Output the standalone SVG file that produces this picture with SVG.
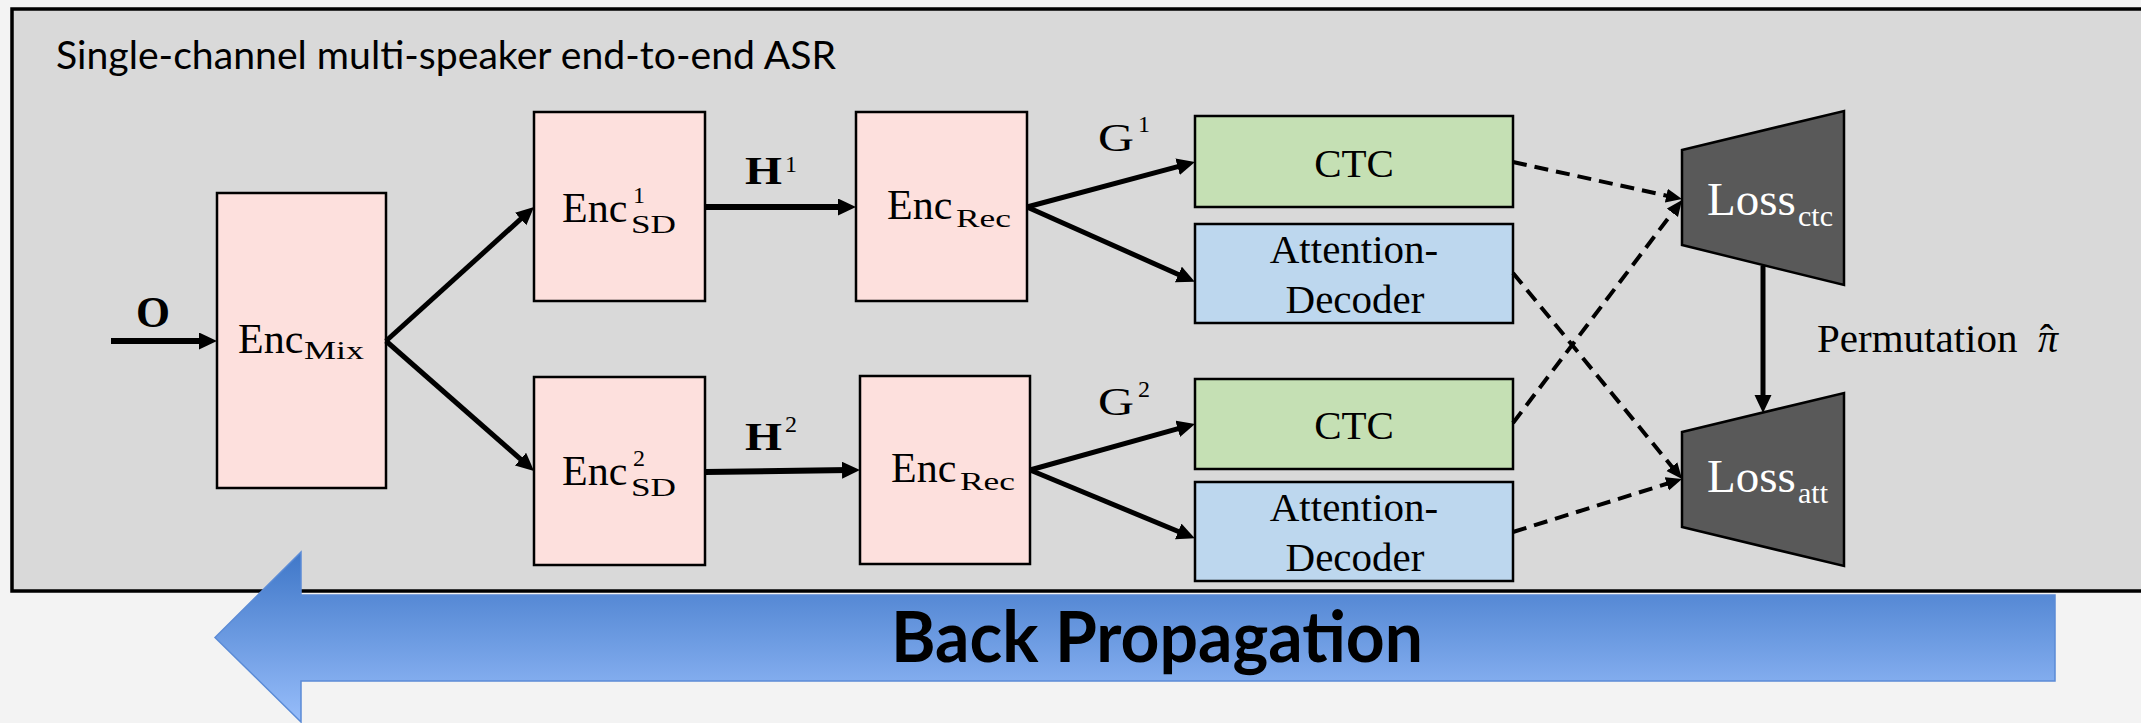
<svg xmlns="http://www.w3.org/2000/svg" width="2141" height="723" viewBox="0 0 2141 723">
<defs>
<style>
.box{stroke:#000;stroke-width:2.5}
.enc{fill:#fde0dd}
.ctc{fill:#c5e0b4}
.att{fill:#bdd7ee}
.loss{fill:#595959;stroke:#000;stroke-width:2.5}
.m{font-family:"Liberation Serif","Times New Roman",serif;fill:#000}
.w{font-family:"Liberation Serif","Times New Roman",serif;fill:#fff}
.solid{stroke:#000;fill:none;marker-end:url(#ah)}
.dash{stroke:#000;fill:none;stroke-width:4;stroke-dasharray:14 8;marker-end:url(#ahd)}
</style>
<marker id="ah" markerUnits="userSpaceOnUse" markerWidth="20" markerHeight="18" refX="8" refY="8.5" orient="auto">
<path d="M0,0 L18,8.5 L0,17 z" fill="#000"/>
</marker>
<marker id="ahd" markerUnits="userSpaceOnUse" markerWidth="18" markerHeight="16" refX="6" refY="7" orient="auto">
<path d="M0,0 L16,7 L0,14 z" fill="#000"/>
</marker>
<linearGradient id="bp" gradientUnits="userSpaceOnUse" x1="0" y1="552" x2="0" y2="722">
<stop offset="0" stop-color="#3f77c8"/>
<stop offset="1" stop-color="#97bdfa"/>
</linearGradient>
</defs>
<rect x="0" y="0" width="2141" height="723" fill="#f3f3f3"/>
<g id="frame">
<rect x="12" y="9" width="2150" height="582" fill="#d9d9d9" stroke="#000" stroke-width="3.5"/>
<text x="56" y="69" font-family="Lato,'Open Sans',sans-serif" font-size="39" textLength="780" lengthAdjust="spacingAndGlyphs" fill="#000">Single-channel multi-speaker end-to-end ASR</text>
</g>
<g id="enc-mix">
<rect class="box enc" x="217" y="193" width="169" height="295"/>
<text class="m" x="238" y="353" font-size="42">Enc</text>
<text class="m" x="304" y="359" font-size="26" textLength="60" lengthAdjust="spacingAndGlyphs">Mix</text>
</g>
<g id="enc-sd1">
<rect class="box enc" x="534" y="112" width="171" height="189"/>
<text class="m" x="562" y="222" font-size="42">Enc</text>
<text class="m" x="633" y="203" font-size="24">1</text>
<text class="m" x="631" y="233" font-size="26" textLength="45" lengthAdjust="spacingAndGlyphs">SD</text>
</g>
<g id="enc-sd2">
<rect class="box enc" x="534" y="377" width="171" height="188"/>
<text class="m" x="562" y="485" font-size="42">Enc</text>
<text class="m" x="633" y="466" font-size="24">2</text>
<text class="m" x="631" y="496" font-size="26" textLength="45" lengthAdjust="spacingAndGlyphs">SD</text>
</g>
<g id="enc-rec1">
<rect class="box enc" x="856" y="112" width="171" height="189"/>
<text class="m" x="887" y="219" font-size="42">Enc</text>
<text class="m" x="956" y="227" font-size="26" textLength="55" lengthAdjust="spacingAndGlyphs">Rec</text>
</g>
<g id="enc-rec2">
<rect class="box enc" x="860" y="376" width="170" height="188"/>
<text class="m" x="891" y="482" font-size="42">Enc</text>
<text class="m" x="960" y="490" font-size="26" textLength="55" lengthAdjust="spacingAndGlyphs">Rec</text>
</g>
<g id="ctc1">
<rect class="box ctc" x="1195" y="116" width="318" height="91"/>
<text class="m" x="1354" y="177" font-size="41" text-anchor="middle">CTC</text>
</g>
<g id="att1">
<rect class="box att" x="1195" y="224" width="318" height="99"/>
<text class="m" x="1354" y="263" font-size="41" text-anchor="middle">Attention-</text>
<text class="m" x="1355" y="313" font-size="41" text-anchor="middle">Decoder</text>
</g>
<g id="ctc2">
<rect class="box ctc" x="1195" y="379" width="318" height="90"/>
<text class="m" x="1354" y="439" font-size="41" text-anchor="middle">CTC</text>
</g>
<g id="att2">
<rect class="box att" x="1195" y="482" width="318" height="99"/>
<text class="m" x="1354" y="521" font-size="41" text-anchor="middle">Attention-</text>
<text class="m" x="1355" y="571" font-size="41" text-anchor="middle">Decoder</text>
</g>
<g id="loss-ctc">
<polygon class="loss" points="1682,150 1844,111 1844,285 1682,245"/>
<text class="w" x="1707" y="215" font-size="47">Loss<tspan x="1798" y="226" font-size="30">ctc</tspan></text>
</g>
<g id="loss-att">
<polygon class="loss" points="1682,432 1844,393 1844,566 1682,527"/>
<text class="w" x="1707" y="492" font-size="47">Loss<tspan x="1798" y="503" font-size="30">att</tspan></text>
</g>
<g id="connectors">
<line class="solid" stroke-width="6" x1="111" y1="341" x2="207" y2="341"/>
<line class="solid" stroke-width="5" x1="386" y1="341" x2="526.6" y2="213.7"/>
<line class="solid" stroke-width="5" x1="386" y1="341" x2="526.5" y2="464.4"/>
<line class="solid" stroke-width="6" x1="705" y1="207" x2="846" y2="207"/>
<line class="solid" stroke-width="6" x1="705" y1="472" x2="850" y2="470.1"/>
<line class="solid" stroke-width="5" x1="1027" y1="207" x2="1185.3" y2="164.6"/>
<line class="solid" stroke-width="5" x1="1027" y1="207" x2="1185.7" y2="277.7"/>
<line class="solid" stroke-width="5" x1="1030" y1="470" x2="1185.4" y2="426.7"/>
<line class="solid" stroke-width="5" x1="1030" y1="470" x2="1185.6" y2="534.5"/>
<line class="solid" stroke-width="5" x1="1763" y1="266" x2="1763" y2="403"/>
<line class="dash" x1="1513" y1="162" x2="1672.2" y2="196.9"/>
<line class="dash" x1="1513" y1="423" x2="1676" y2="208"/>
<line class="dash" x1="1513" y1="273" x2="1675.7" y2="471.3"/>
<line class="dash" x1="1513" y1="532" x2="1672.5" y2="482"/>
<text class="m" x="136" y="327" font-size="44" font-weight="bold" textLength="34" lengthAdjust="spacingAndGlyphs">O</text>
<text class="m" x="745" y="184" font-size="40" font-weight="bold" textLength="37" lengthAdjust="spacingAndGlyphs">H</text>
<text class="m" x="785" y="172" font-size="24">1</text>
<text class="m" x="745" y="450" font-size="40" font-weight="bold" textLength="37" lengthAdjust="spacingAndGlyphs">H</text>
<text class="m" x="785" y="432" font-size="24">2</text>
<text class="m" x="1098" y="151" font-size="40" textLength="36" lengthAdjust="spacingAndGlyphs">G</text>
<text class="m" x="1138" y="132" font-size="24">1</text>
<text class="m" x="1098" y="415" font-size="40" textLength="36" lengthAdjust="spacingAndGlyphs">G</text>
<text class="m" x="1138" y="397" font-size="24">2</text>
<text class="m" x="1817" y="352" font-size="41">Permutation<tspan x="2038" font-style="italic" font-size="40">π</tspan><tspan x="2040" font-size="40">ˆ</tspan></text>
</g>
<g id="back-propagation">
<polygon points="215,637.5 301,552 301,595 2055,595 2055,681 301,681 301,722" fill="url(#bp)" stroke="#5b8bd6" stroke-width="1.5"/>
<text x="891" y="662" font-family="Lato,'Open Sans',sans-serif" font-weight="bold" font-size="70" textLength="532" lengthAdjust="spacingAndGlyphs" fill="#000">Back Propagation</text>
</g>
</svg>
